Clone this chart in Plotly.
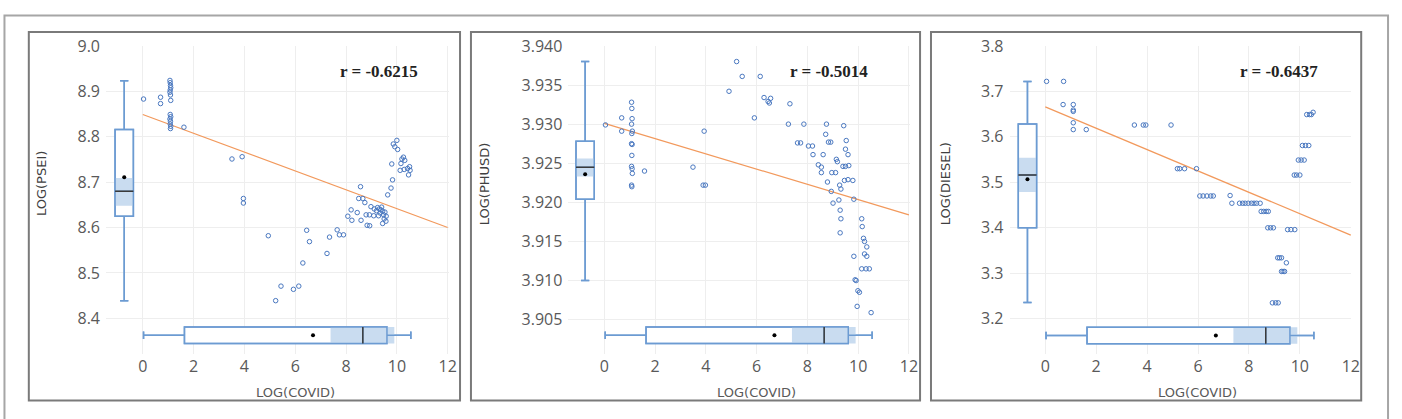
import plotly.graph_objects as go

# ---------------- data ----------------
covid_psei = [0.03, 0.70, 0.70,
              1.07, 1.08, 1.09, 1.10, 1.08, 1.07, 1.09, 1.10,
              1.08, 1.10, 1.07, 1.09, 1.08, 1.10, 1.09,
              1.62, 3.51, 3.91, 3.96, 3.96, 4.94, 5.44, 5.23, 5.93, 6.14,
              6.45, 6.56, 6.30, 7.25, 7.35, 7.65, 7.74, 7.90,
              8.57, 8.50, 8.66, 8.74, 8.20, 8.23, 8.07, 8.44, 8.59,
              8.83, 8.93, 8.79, 8.92, 9.09, 8.98, 9.11,
              9.24, 9.31, 9.37, 9.44, 9.20, 9.34, 9.48, 9.53, 9.58, 9.50,
              9.57, 9.44, 9.28, 9.40,
              9.64, 9.77, 9.83, 9.80, 9.86, 9.92, 10.00, 10.03, 10.16,
              10.20, 10.26, 10.31, 10.13, 10.29, 10.42, 10.50, 10.52, 10.46]
psei = [8.883, 8.887, 8.873,
        8.924, 8.919, 8.913, 8.908, 8.903, 8.898, 8.892, 8.880,
        8.849, 8.844, 8.839, 8.834, 8.828, 8.823, 8.818,
        8.821, 8.751, 8.756, 8.664, 8.654, 8.582, 8.471, 8.439, 8.464, 8.471,
        8.594, 8.569, 8.522, 8.543, 8.579, 8.595, 8.584, 8.584,
        8.690, 8.664, 8.664, 8.655, 8.639, 8.616, 8.625, 8.633, 8.616,
        8.605, 8.604, 8.628, 8.628, 8.626, 8.646, 8.641,
        8.644, 8.641, 8.639, 8.636, 8.637, 8.632, 8.628, 8.634, 8.625, 8.619,
        8.614, 8.609, 8.626, 8.645,
        8.672, 8.687, 8.705, 8.740, 8.784, 8.778, 8.792, 8.772, 8.741,
        8.751, 8.755, 8.748, 8.726, 8.728, 8.730, 8.734, 8.726, 8.716]

covid_phusd = [0.04, 0.68, 0.68,
               1.07, 1.08, 1.09, 1.07, 1.10, 1.08, 1.07, 1.09, 1.08, 1.07,
               1.09, 1.10, 1.07, 1.08,
               1.58, 3.49, 3.93, 3.89, 3.98, 4.91, 5.21, 5.43, 6.14, 5.91,
               6.29, 6.55, 6.45, 6.50, 7.31, 7.25, 7.86, 7.61, 7.73, 8.04,
               8.20, 8.22, 8.62, 8.43, 8.55, 8.55, 8.75, 8.72, 8.83, 8.92,
               8.79, 8.96, 9.11, 8.94, 9.01, 9.14, 9.18, 9.27, 9.32, 9.24,
               9.29, 9.32, 9.29, 9.40, 9.50, 9.63, 9.43, 9.53, 9.50, 9.60,
               9.46, 9.60, 9.79, 9.83, 9.83, 9.88, 9.92, 9.99, 10.05, 9.96,
               10.14, 10.16, 10.21, 10.25, 10.34, 10.25, 10.34, 10.14, 10.31,
               10.44, 10.51]
phusd = [3.9299, 3.9308, 3.9291,
         3.9328, 3.9320, 3.9307, 3.9300, 3.9291, 3.9288, 3.9275, 3.9274,
         3.9260, 3.9246, 3.9243, 3.9237, 3.9222, 3.9220,
         3.9240, 3.9245, 3.9291, 3.9222, 3.9222, 3.9342, 3.9380, 3.9361,
         3.9361, 3.9308,
         3.9334, 3.9333, 3.9329, 3.9327, 3.9326, 3.9300, 3.9300, 3.9276,
         3.9276, 3.9272,
         3.9272, 3.9261, 3.9261, 3.9248, 3.9245, 3.9238, 3.9300, 3.9287,
         3.9277, 3.9277,
         3.9226, 3.9238, 3.9238, 3.9214, 3.9199, 3.9255, 3.9252, 3.9222,
         3.9217, 3.9203,
         3.9190, 3.9179, 3.9161, 3.9246, 3.9246, 3.9247, 3.9298, 3.9279,
         3.9268, 3.9261,
         3.9228, 3.9229, 3.9228, 3.9204, 3.9131, 3.9101, 3.9100, 3.9087,
         3.9085, 3.9067,
         3.9179, 3.9169, 3.9154, 3.9150, 3.9143, 3.9134, 3.9131, 3.9115,
         3.9115, 3.9115, 3.9059]

covid_diesel = [0.05, 0.72, 0.70, 1.10, 1.10, 1.10, 1.10, 1.10, 1.61,
                3.50, 3.85, 3.95, 4.94,
                5.19, 5.28, 5.47, 5.94,
                6.07, 6.20, 6.35, 6.50, 6.60, 7.26,
                7.33, 7.63, 7.75, 7.85, 7.97, 8.10, 8.20, 8.30, 8.44,
                8.48, 8.58, 8.68, 8.76,
                8.74, 8.85, 8.96,
                9.52, 9.65, 9.80,
                9.13, 9.20, 9.28, 9.47,
                9.28, 9.34, 9.40,
                8.92, 9.05, 9.15,
                9.78, 9.87, 10.00,
                9.94, 10.05, 10.17,
                10.10, 10.22, 10.35,
                10.27, 10.38, 10.45, 10.52]
diesel = [3.722, 3.722, 3.671, 3.671, 3.659, 3.656, 3.631, 3.616, 3.616,
          3.626, 3.626, 3.626, 3.626,
          3.530, 3.530, 3.530, 3.530,
          3.470, 3.470, 3.470, 3.470, 3.470, 3.471,
          3.454, 3.454, 3.454, 3.454, 3.454, 3.454, 3.454, 3.454, 3.454,
          3.436, 3.436, 3.436, 3.436,
          3.400, 3.400, 3.400,
          3.396, 3.396, 3.396,
          3.334, 3.334, 3.334, 3.323,
          3.304, 3.304, 3.304,
          3.235, 3.235, 3.235,
          3.516, 3.516, 3.516,
          3.549, 3.549, 3.549,
          3.581, 3.581, 3.581,
          3.649, 3.649, 3.649, 3.654]

# fitted lines (end points)
trend_x = [0, 12]
psei_trend = [8.849, 8.600]
phusd_trend = [3.9301, 3.9184]
diesel_trend = [3.666, 3.384]

# box statistics: [lower whisker, q1, median, q3, upper whisker]
psei_box = [8.439, 8.625, 8.680, 8.816, 8.923]
phusd_box = [3.9100, 3.9204, 3.9245, 3.9278, 3.9380]
diesel_box = [3.236, 3.400, 3.516, 3.628, 3.722]
covid_box = [0.03, 1.64, 8.66, 9.61, 10.55]
psei_mean, phusd_mean, diesel_mean, covid_mean = 8.711, 3.9236, 3.507, 6.70
psei_ci = [8.648, 8.709]
phusd_ci = [3.9233, 3.9256]
diesel_ci = [3.479, 3.554]
covid_ci = [7.39, 9.90]

r_labels = ["r = -0.6215", "r = -0.5014", "r = -0.6437"]
y_titles = ["LOG(PSEI)", "LOG(PHUSD)", "LOG(DIESEL)"]
x_title = "LOG(COVID)"

# ---------------- styling / layout ----------------
BLUE = "#4a78c0"
BOX_LINE = "#6c9bd2"
BAND = "#c9dcf0"
ORANGE = "#f2995c"
GRID = "#eeeeee"
TXT = "#595959"

panels = [
    dict(x=covid_psei, y=psei, trend=psei_trend, vbox=psei_box, vmean=psei_mean,
         vci=psei_ci, xdom=[0.0761, 0.3222], xr=[-1.447, 12.045],
         yr=[8.3221, 9.0005], dtick=0.1, fmt=".1f", vpos=-0.73, hpos=8.363,
         hwidth=0.0364),
    dict(x=covid_phusd, y=phusd, trend=phusd_trend, vbox=phusd_box, vmean=phusd_mean,
         vci=phusd_ci, xdom=[0.408, 0.6534], xr=[-1.422, 12.05],
         yr=[3.90064, 3.94003], dtick=0.005, fmt=".3f", vpos=-0.76, hpos=3.9030,
         hwidth=0.00211),
    dict(x=covid_diesel, y=diesel, trend=diesel_trend, vbox=diesel_box, vmean=diesel_mean,
         vci=diesel_ci, xdom=[0.7247, 0.9700], xr=[-1.405, 12.017],
         yr=[3.1230, 3.8005], dtick=0.1, fmt=".1f", vpos=-0.70, hpos=3.163,
         hwidth=0.0364),
]
YDOM = [0.1599, 0.915]
VWIDTH = 0.72

fig = go.Figure()
layout = dict(width=1402, height=419, margin=dict(l=0, r=0, t=0, b=0),
              paper_bgcolor="white", plot_bgcolor="white", showlegend=False,
              boxmode="overlay", font=dict(family="Open Sans", color=TXT))


def box_trace(orient, pos, stats, width, xa, ya, fill, lcolor, lw):
    lf, q1, med, q3, uf = stats
    kw = dict(q1=[q1], median=[med], q3=[q3], lowerfence=[lf], upperfence=[uf],
              width=width, orientation=orient, fillcolor=fill,
              line=dict(color=lcolor, width=lw), whiskerwidth=0.45,
              boxpoints=False, hoverinfo="skip", xaxis=xa, yaxis=ya)
    if orient == "v":
        kw["x"] = [pos]
    else:
        kw["y"] = [pos]
    return go.Box(**kw)


for i, p in enumerate(panels, start=1):
    xa = "x" if i == 1 else f"x{i}"
    ya = "y" if i == 1 else f"y{i}"
    xk = "xaxis" if i == 1 else f"xaxis{i}"
    yk = "yaxis" if i == 1 else f"yaxis{i}"
    layout[xk] = dict(domain=p["xdom"], range=p["xr"], anchor=ya, tick0=0, dtick=2,
                      showgrid=True, gridcolor=GRID, gridwidth=1, zeroline=False,
                      showline=False, ticks="", tickfont=dict(size=16, color=TXT),
                      ticklabelstandoff=1, fixedrange=True)
    layout[yk] = dict(domain=YDOM, range=p["yr"], anchor=xa, dtick=p["dtick"],
                      tickformat=p["fmt"], showgrid=True, gridcolor=GRID, gridwidth=1,
                      zeroline=False, showline=False, ticks="",
                      tickfont=dict(size=16, color=TXT), ticklabelstandoff=5,
                      fixedrange=True)

    # vertical (y-variable) box
    vb = p["vbox"]
    fig.add_trace(box_trace("v", p["vpos"], vb, VWIDTH, xa, ya, "white", BOX_LINE, 1.5))
    ci = p["vci"]
    fig.add_trace(box_trace("v", p["vpos"], [ci[0], ci[0], ci[0], ci[1], ci[1]], VWIDTH,
                            xa, ya, BAND, "rgba(0,0,0,0)", 0))
    fig.add_trace(box_trace("v", p["vpos"], vb, VWIDTH, xa, ya, "rgba(0,0,0,0)", BOX_LINE, 1.5))
    fig.add_trace(box_trace("v", p["vpos"], [vb[2]] * 5, VWIDTH, xa, ya,
                            "rgba(0,0,0,0)", "#3a3a3a", 1.5))
    fig.add_trace(go.Scatter(x=[p["vpos"]], y=[p["vmean"]], mode="markers",
                             marker=dict(color="black", size=4), hoverinfo="skip",
                             xaxis=xa, yaxis=ya))

    # horizontal (COVID) box
    fig.add_trace(box_trace("h", p["hpos"], covid_box, p["hwidth"], xa, ya, "white", BOX_LINE, 1.5))
    fig.add_trace(box_trace("h", p["hpos"], [covid_ci[0], covid_ci[0], covid_ci[0],
                                             covid_ci[1], covid_ci[1]],
                            p["hwidth"], xa, ya, BAND, "rgba(0,0,0,0)", 0))
    fig.add_trace(box_trace("h", p["hpos"], covid_box, p["hwidth"], xa, ya,
                            "rgba(0,0,0,0)", BOX_LINE, 1.5))
    fig.add_trace(box_trace("h", p["hpos"], [covid_box[2]] * 5, p["hwidth"], xa, ya,
                            "rgba(0,0,0,0)", "#3a3a3a", 1.5))
    fig.add_trace(go.Scatter(x=[covid_mean], y=[p["hpos"]], mode="markers",
                             marker=dict(color="black", size=4), hoverinfo="skip",
                             xaxis=xa, yaxis=ya))

    # trend line
    fig.add_trace(go.Scatter(x=trend_x, y=p["trend"], mode="lines",
                             line=dict(color=ORANGE, width=1.2), hoverinfo="skip",
                             xaxis=xa, yaxis=ya))
    # scatter points
    fig.add_trace(go.Scatter(x=p["x"], y=p["y"], mode="markers",
                             marker=dict(symbol="circle-open", size=4.5, color=BLUE,
                                         line=dict(width=1, color=BLUE)),
                             xaxis=xa, yaxis=ya))

# ---------- annotations (text) ----------
W, H = 1402, 419
r_pos = [381, 834, 1287]
ytitle_pos = [42, 487, 951]
xtitle_pos = [297, 761, 1205]
ann = []
for i in range(3):
    ann.append(dict(text=f"<b>{r_labels[i]}</b>", x=r_pos[i] / W, y=1 - 62 / H,
                    xref="paper", yref="paper", showarrow=False,
                    xanchor="center", yanchor="middle",
                    font=dict(family="Liberation Serif", size=17, color="#222222")))
    ann.append(dict(text=y_titles[i], x=ytitle_pos[i] / W, y=1 - 177 / H,
                    xref="paper", yref="paper", showarrow=False, textangle=-90,
                    xanchor="center", yanchor="middle",
                    font=dict(family="DejaVu Sans", size=13, color="#404040")))
    ann.append(dict(text=x_title, x=xtitle_pos[i] / W, y=1 - 392 / H,
                    xref="paper", yref="paper", showarrow=False,
                    xanchor="center", yanchor="middle",
                    font=dict(family="DejaVu Sans", size=13, color=TXT)))
layout["annotations"] = ann

# ---------- frames ----------
shapes = [dict(type="rect", xref="paper", yref="paper",
               x0=4.5 / W, x1=1397 / W, y0=-0.05, y1=1 - 4.5 / H,
               line=dict(color="#a6a6a6", width=2), layer="below")]
frames_x = [(29, 463), (474, 926), (937, 1370)]
for x0, x1 in frames_x:
    shapes.append(dict(type="rect", xref="paper", yref="paper",
                       x0=x0 / W, x1=x1 / W, y0=1 - 400 / H, y1=1 - 21.5 / H,
                       line=dict(color="#7a7a7a", width=2), layer="below"))
layout["shapes"] = shapes

fig.update_layout(**layout)
fig.write_html("out.html")
